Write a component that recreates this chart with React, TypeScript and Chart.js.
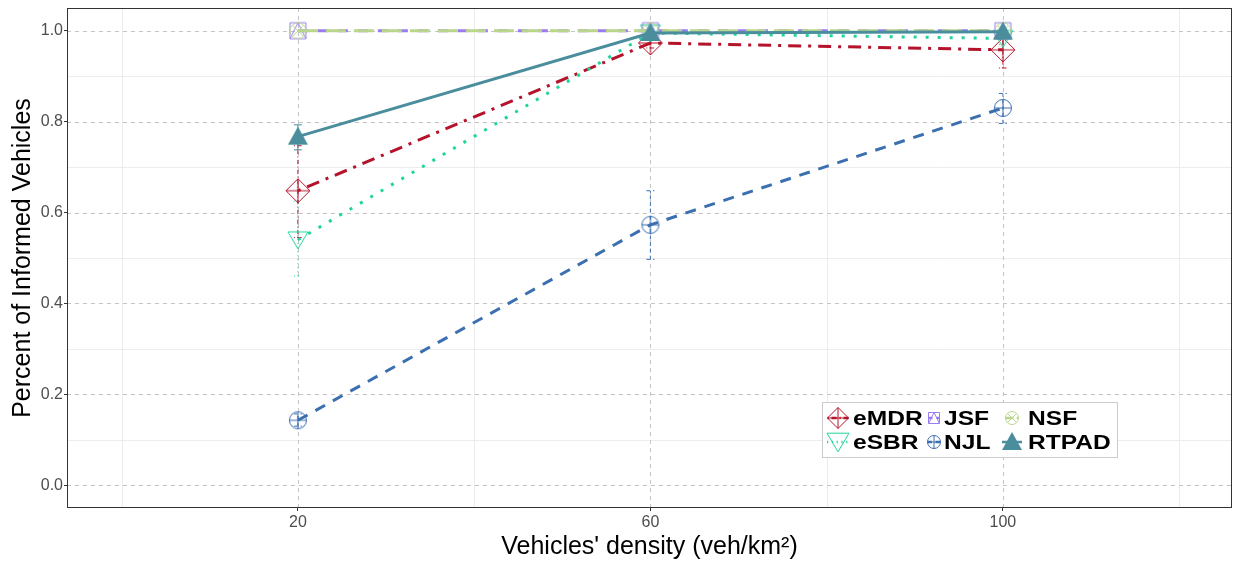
import React, { useEffect, useRef } from "react";
import { Chart, registerables } from "chart.js";
Chart.register(...registerables);

// ---- data ----
const densities = [20, 60, 100];
const xTicks = [20, 60, 100];
const xMinor = [0, 40, 80, 120];
const yTicks = [0, 0.2, 0.4, 0.6, 0.8, 1.0];
const yMinor = [0.1, 0.3, 0.5, 0.7, 0.9];

const eMDR = [0.648, 0.973, 0.958];
const eMDRLow = [0.545, 0.962, 0.918];
const eMDRHigh = [0.747, 0.985, 0.998];

const eSBR = [0.54, 0.995, 0.983];
const eSBRLow = [0.46, 0.99, 0.97];
const eSBRHigh = [0.625, 1.0, 0.996];

const JSF = [1.0, 1.0, 1.0];
const NSF = [1.0, 1.0, 1.0];

const NJL = [0.143, 0.573, 0.83];
const NJLLow = [0.13, 0.497, 0.796];
const NJLHigh = [0.157, 0.648, 0.862];

const RTPAD = [0.767, 0.995, 0.998];
const RTPADLow = [0.738, 0.99, 0.996];
const RTPADHigh = [0.793, 1.0, 1.0];

type Kind = "diamondPlus" | "triDown" | "squareTri" | "circleX" | "circlePlus" | "triUpFilled";

interface Series {
  label: string;
  values: number[];
  low?: number[];
  high?: number[];
  color: string;
  dash: number[];
  width: number;
  marker: Kind;
}

const series: Series[] = [
  { label: "eMDR", values: eMDR, low: eMDRLow, high: eMDRHigh, color: "#b5132b", dash: [3, 7, 13, 7], width: 3, marker: "diamondPlus" },
  { label: "eSBR", values: eSBR, low: eSBRLow, high: eSBRHigh, color: "#1ed69c", dash: [3, 9], width: 3, marker: "triDown" },
  { label: "JSF", values: JSF, color: "#9a7cf0", dash: [10, 10], width: 3, marker: "squareTri" },
  { label: "NSF", values: NSF, color: "#b9d68c", dash: [20, 8], width: 3, marker: "circleX" },
  { label: "NJL", values: NJL, low: NJLLow, high: NJLHigh, color: "#3b6fb0", dash: [11, 9], width: 3, marker: "circlePlus" },
  { label: "RTPAD", values: RTPAD, low: RTPADLow, high: RTPADHigh, color: "#4a8d9d", dash: [], width: 3, marker: "triUpFilled" },
];

const legendOrder = [
  ["eMDR", "eSBR"],
  ["JSF", "NJL"],
  ["NSF", "RTPAD"],
];

// sizes: [plot, legend]
const markerSize: Record<Kind, [number, number]> = {
  diamondPlus: [12, 10.5],
  triDown: [10, 11],
  squareTri: [8, 5.5],
  circleX: [8, 6.5],
  circlePlus: [8.5, 6.5],
  triUpFilled: [10, 10],
};

function makeMarker(kind: Kind, color: string, r: number): HTMLCanvasElement {
  const S = 30;
  const c = document.createElement("canvas");
  c.width = S;
  c.height = S;
  const g = c.getContext("2d")!;
  g.translate(S / 2, S / 2);
  g.strokeStyle = color;
  g.fillStyle = color;
  g.lineWidth = 1;
  g.beginPath();
  switch (kind) {
    case "diamondPlus": {
      g.moveTo(0, -r); g.lineTo(r, 0); g.lineTo(0, r); g.lineTo(-r, 0); g.closePath();
      g.moveTo(-r, 0); g.lineTo(r, 0);
      g.moveTo(0, -r); g.lineTo(0, r);
      g.stroke();
      break;
    }
    case "triDown": {
      const h = r * 0.8;
      g.moveTo(-r, -h); g.lineTo(r, -h); g.lineTo(0, h + 1); g.closePath();
      g.stroke();
      break;
    }
    case "squareTri": {
      g.rect(-r, -r, 2 * r, 2 * r);
      g.moveTo(-r, r); g.lineTo(0, -r); g.lineTo(r, r);
      g.stroke();
      break;
    }
    case "circleX": {
      const d = r * 0.7071;
      g.arc(0, 0, r, 0, Math.PI * 2);
      g.moveTo(-d, -d); g.lineTo(d, d);
      g.moveTo(-d, d); g.lineTo(d, -d);
      g.stroke();
      break;
    }
    case "circlePlus": {
      g.arc(0, 0, r, 0, Math.PI * 2);
      g.moveTo(-r, 0); g.lineTo(r, 0);
      g.moveTo(0, -r); g.lineTo(0, r);
      g.stroke();
      break;
    }
    case "triUpFilled": {
      g.moveTo(-r, 0.8 * r); g.lineTo(r, 0.8 * r); g.lineTo(0, -r); g.closePath();
      g.fill();
      break;
    }
  }
  return c;
}

const FONT = "'Liberation Sans', Arial, Helvetica, sans-serif";

export default function App() {
  const ref = useRef<HTMLCanvasElement | null>(null);

  useEffect(() => {
    document.body.style.margin = "0";
    const canvas = ref.current!;
    const markers: Record<string, HTMLCanvasElement> = {};
    const legendMarkers: Record<string, HTMLCanvasElement> = {};
    series.forEach((s) => {
      markers[s.label] = makeMarker(s.marker, s.color, markerSize[s.marker][0]);
      legendMarkers[s.label] = makeMarker(s.marker, s.color, markerSize[s.marker][1]);
    });

    const decor = {
      id: "decor",
      beforeDatasetsDraw(chart: any) {
        const { ctx, chartArea: a, scales } = chart;
        const xs = scales.x, ys = scales.y;
        ctx.save();
        // minor grid
        ctx.strokeStyle = "#ececec";
        ctx.lineWidth = 1;
        ctx.setLineDash([]);
        xMinor.forEach((v) => {
          const px = Math.round(xs.getPixelForValue(v)) + 0.5;
          ctx.beginPath(); ctx.moveTo(px, a.top); ctx.lineTo(px, a.bottom); ctx.stroke();
        });
        yMinor.forEach((v) => {
          const py = Math.round(ys.getPixelForValue(v)) + 0.5;
          ctx.beginPath(); ctx.moveTo(a.left, py); ctx.lineTo(a.right, py); ctx.stroke();
        });
        // major grid
        ctx.strokeStyle = "#c4c4c4";
        ctx.setLineDash([4, 4]);
        xTicks.forEach((v) => {
          const px = Math.round(xs.getPixelForValue(v)) + 0.5;
          ctx.beginPath(); ctx.moveTo(px, a.top); ctx.lineTo(px, a.bottom); ctx.stroke();
        });
        yTicks.forEach((v) => {
          const py = Math.round(ys.getPixelForValue(v)) + 0.5;
          ctx.beginPath(); ctx.moveTo(a.left, py); ctx.lineTo(a.right, py); ctx.stroke();
        });
        // error bars
        series.forEach((s) => {
          if (!s.low || !s.high) return;
          ctx.strokeStyle = s.color;
          ctx.lineWidth = 1;
          ctx.setLineDash(s.dash.map((d) => Math.max(1, d / 3)));
          densities.forEach((x, i) => {
            const px = xs.getPixelForValue(x);
            const pl = ys.getPixelForValue(s.low![i]);
            const ph = ys.getPixelForValue(s.high![i]);
            ctx.beginPath();
            ctx.moveTo(px, pl); ctx.lineTo(px, ph);
            ctx.moveTo(px - 4, pl); ctx.lineTo(px + 4, pl);
            ctx.moveTo(px - 4, ph); ctx.lineTo(px + 4, ph);
            ctx.stroke();
          });
        });
        ctx.restore();
      },
      afterDatasetsDraw(chart: any) {
        const { ctx, chartArea: a } = chart;
        ctx.save();
        // panel border
        ctx.setLineDash([]);
        ctx.strokeStyle = "#333333";
        ctx.lineWidth = 1;
        ctx.strokeRect(a.left + 0.5, a.top + 0.5, a.right - a.left - 1, a.bottom - a.top - 1);
        // legend
        const lx = 822, ly = 402, lw = 295, lh = 55;
        ctx.fillStyle = "#ffffff";
        ctx.fillRect(lx, ly, lw, lh);
        ctx.strokeStyle = "#cccccc";
        ctx.strokeRect(lx + 0.5, ly + 0.5, lw, lh);
        const colX = [838, 934, 1012];
        const textX = [853, 944, 1028];
        const rowY = [418, 442];
        ctx.font = `bold 21px ${FONT}`;
        ctx.textBaseline = "middle";
        ctx.textAlign = "left";
        legendOrder.forEach((col, ci) => {
          col.forEach((lab, ri) => {
            const s = series.find((q) => q.label === lab)!;
            const cx = colX[ci], cy = rowY[ri];
            const hw = markerSize[s.marker][1];
            ctx.strokeStyle = s.color;
            ctx.lineWidth = 2.5;
            ctx.setLineDash(s.dash.map((d) => d / 2.5));
            ctx.beginPath(); ctx.moveTo(cx - hw, cy); ctx.lineTo(cx + hw, cy); ctx.stroke();
            ctx.setLineDash([]);
            const m = legendMarkers[lab];
            ctx.drawImage(m, cx - m.width / 2, cy - m.height / 2);
            ctx.fillStyle = "#000000";
            ctx.save();
            ctx.translate(textX[ci], cy + 1);
            ctx.scale(1.17, 1);
            ctx.fillText(lab, 0, 0);
            ctx.restore();
          });
        });
        ctx.restore();
      },
    };

    const zeroPad = (axis: any) => {
      axis.paddingTop = 0;
      axis.paddingBottom = 0;
      axis.paddingLeft = 0;
      axis.paddingRight = 0;
    };

    const drawOrder = [...series].reverse();
    const chart = new Chart(canvas, {
      type: "line",
      data: {
        datasets: drawOrder.map((s) => ({
          label: s.label,
          data: densities.map((x, i) => ({ x, y: s.values[i] })),
          borderColor: s.color,
          backgroundColor: s.color,
          borderWidth: s.width,
          borderDash: s.dash,
          pointStyle: markers[s.label] as any,
          pointRadius: 10,
          pointHoverRadius: 10,
          fill: false,
          tension: 0,
          clip: false,
        })),
      },
      options: {
        animation: false,
        responsive: false,
        maintainAspectRatio: false,
        layout: { autoPadding: false, padding: { top: 8, right: 5, left: 0, bottom: 0 } },
        plugins: { legend: { display: false }, tooltip: { enabled: false } },
        scales: {
          x: {
            type: "linear",
            min: -6.2,
            max: 126,
            afterBuildTicks: (axis: any) => {
              axis.ticks = xTicks.map((v) => ({ value: v }));
            },
            afterFit: (axis: any) => {
              axis.height = 55;
              zeroPad(axis);
            },
            grid: { display: true, drawOnChartArea: false, drawTicks: true, tickLength: 3, color: "#333333" },
            border: { display: false },
            ticks: {
              autoSkip: false,
              maxRotation: 0,
              padding: 2,
              color: "#4d4d4d",
              font: { family: FONT, size: 16 },
              callback: (v: any) => String(v),
            },
            title: {
              display: true,
              text: "Vehicles' density (veh/km²)",
              color: "#000000",
              font: { family: FONT, size: 25 },
              padding: { top: 0, bottom: 1 },
            },
          },
          y: {
            type: "linear",
            min: -0.05,
            max: 1.05,
            afterBuildTicks: (axis: any) => {
              axis.ticks = yTicks.map((v) => ({ value: v }));
            },
            afterFit: (axis: any) => {
              axis.width = 67;
              zeroPad(axis);
            },
            grid: { display: true, drawOnChartArea: false, drawTicks: true, tickLength: 3, color: "#333333" },
            border: { display: false },
            ticks: {
              autoSkip: false,
              padding: 1,
              color: "#4d4d4d",
              font: { family: FONT, size: 16 },
              callback: (v: any) => Number(v).toFixed(1),
            },
            title: {
              display: true,
              text: "Percent of Informed Vehicles",
              color: "#000000",
              font: { family: FONT, size: 25 },
              padding: { top: 8, bottom: 0 },
            },
          },
        },
      },
      plugins: [decor],
    } as any);
    return () => chart.destroy();
  }, []);

  return (
    <div style={{ width: 1237, height: 563, position: "relative", background: "#ffffff" }}>
      <canvas ref={ref} width={1237} height={563} style={{ display: "block", width: 1237, height: 563 }} />
    </div>
  );
}
